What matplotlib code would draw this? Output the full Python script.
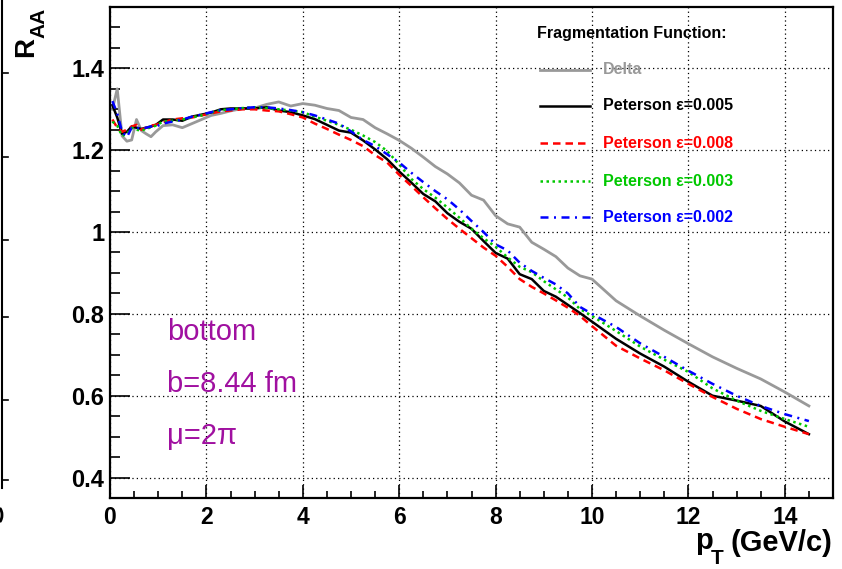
import matplotlib
matplotlib.use("Agg")
import matplotlib.pyplot as plt
from matplotlib.lines import Line2D
from matplotlib.patches import Arc
from matplotlib.ticker import MultipleLocator

plt.rcParams['font.family'] = ['Liberation Sans', 'DejaVu Sans']

pt = [0.05, 0.15, 0.25, 0.35, 0.45, 0.55, 0.65, 0.75, 0.85, 0.95, 1.1, 1.3, 1.5, 1.7, 1.9,
      2.1, 2.3, 2.5, 2.75, 3.0, 3.25, 3.5, 3.75, 4.0, 4.25, 4.5, 4.75, 5.0, 5.25, 5.5, 5.75,
      6.0, 6.25, 6.5, 6.75, 7.0, 7.25, 7.5, 7.75, 8.0, 8.25, 8.5, 8.75, 9.0, 9.25, 9.5, 9.75,
      10.0, 10.5, 11.0, 11.5, 12.0, 12.5, 13.0, 13.5, 14.0, 14.5]

raa_delta = [1.30, 1.35, 1.235, 1.222, 1.225, 1.275, 1.248, 1.24, 1.233, 1.245, 1.26, 1.262, 1.255, 1.265, 1.275,
             1.285, 1.29, 1.296, 1.302, 1.303, 1.312, 1.318, 1.308, 1.314, 1.31, 1.302, 1.297, 1.28, 1.275, 1.255, 1.24,
             1.224, 1.205, 1.183, 1.16, 1.142, 1.12, 1.09, 1.078, 1.04, 1.02, 1.012, 0.975, 0.958, 0.94, 0.912, 0.893,
             0.885, 0.832, 0.795, 0.76, 0.727, 0.695, 0.667, 0.641, 0.609, 0.575]

raa_p005 = [1.31, 1.28, 1.24, 1.245, 1.258, 1.255, 1.252, 1.255, 1.258, 1.262, 1.275, 1.275, 1.272, 1.282, 1.287,
            1.292, 1.300, 1.302, 1.302, 1.302, 1.305, 1.297, 1.293, 1.285, 1.276, 1.262, 1.248, 1.243, 1.224, 1.202, 1.178,
            1.148, 1.121, 1.093, 1.075, 1.046, 1.025, 1.008, 0.978, 0.949, 0.935, 0.897, 0.885, 0.856, 0.842, 0.822, 0.802,
            0.781, 0.739, 0.703, 0.671, 0.634, 0.600, 0.588, 0.575, 0.537, 0.506]

raa_p008 = [1.275, 1.255, 1.245, 1.25, 1.258, 1.262, 1.25, 1.255, 1.26, 1.262, 1.268, 1.275, 1.278, 1.28, 1.285,
            1.29, 1.295, 1.297, 1.3, 1.3, 1.297, 1.295, 1.288, 1.28, 1.265, 1.252, 1.238, 1.225, 1.21, 1.188, 1.17,
            1.14, 1.113, 1.085, 1.058, 1.032, 1.008, 0.985, 0.962, 0.942, 0.915, 0.885, 0.866, 0.85, 0.833, 0.815, 0.795,
            0.77, 0.722, 0.691, 0.662, 0.629, 0.597, 0.568, 0.543, 0.524, 0.506]

raa_p003 = [1.27, 1.26, 1.235, 1.24, 1.255, 1.25, 1.248, 1.252, 1.256, 1.26, 1.27, 1.272, 1.275, 1.28, 1.285,
            1.292, 1.298, 1.3, 1.303, 1.305, 1.303, 1.3, 1.297, 1.293, 1.282, 1.272, 1.262, 1.25, 1.236, 1.22, 1.198,
            1.165, 1.13, 1.105, 1.084, 1.06, 1.035, 1.008, 0.985, 0.964, 0.938, 0.915, 0.902, 0.88, 0.86, 0.84, 0.812,
            0.795, 0.758, 0.72, 0.688, 0.658, 0.618, 0.588, 0.563, 0.543, 0.524]

raa_p002 = [1.32, 1.29, 1.245, 1.232, 1.255, 1.255, 1.252, 1.255, 1.258, 1.258, 1.265, 1.27, 1.275, 1.282, 1.287,
            1.293, 1.298, 1.3, 1.303, 1.305, 1.305, 1.302, 1.298, 1.293, 1.285, 1.275, 1.265, 1.246, 1.225, 1.21, 1.19,
            1.17, 1.145, 1.122, 1.1, 1.08, 1.055, 1.027, 1.0, 0.97, 0.955, 0.925, 0.905, 0.888, 0.872, 0.85, 0.817,
            0.8, 0.768, 0.728, 0.695, 0.661, 0.629, 0.600, 0.575, 0.555, 0.538]

labels = ["Delta", "Peterson \u03b5=0.005", "Peterson \u03b5=0.008", "Peterson \u03b5=0.003", "Peterson \u03b5=0.002"]
colors = ["#999999", "#000000", "#ff0000", "#00c800", "#0000ff"]
styles = ["-", "-", (0, (3, 2)), (0, (1, 1.4)), (0, (3.2, 2.2, 0.8, 2.2))]
widths = [2.0, 1.8, 1.8, 1.8, 1.8]
series = [raa_delta, raa_p005, raa_p008, raa_p003, raa_p002]

fig = plt.figure(figsize=(8.42, 5.69), dpi=100)
ax = fig.add_axes([110/842, 71/569, 723/842, 491/569])

for y, c, ls, lw in zip(series, colors, styles, widths):
    ax.plot(pt, y, color=c, linestyle=ls, linewidth=lw)

ax.set_xlim(0, 15)
ax.set_ylim(0.35, 1.55)
ax.xaxis.set_minor_locator(MultipleLocator(0.5))
ax.yaxis.set_minor_locator(MultipleLocator(0.05))
ax.set_xticks([0, 2, 4, 6, 8, 10, 12, 14])
ax.set_xticklabels(["0", "2", "4", "6", "8", "10", "12", "14"])
ax.set_yticks([0.4, 0.6, 0.8, 1.0, 1.2, 1.4])
ax.set_yticklabels(["0.4", "0.6", "0.8", "1", "1.2", "1.4"])
ax.grid(True, which='major', color='black', linestyle=(0, (1, 2.5)), linewidth=0.9)
ax.tick_params(axis='both', which='both', direction='in', top=False, right=False, width=1.2)
ax.tick_params(axis='x', which='major', length=9.5, pad=6, labelsize=16.5)
ax.tick_params(axis='x', which='minor', length=5)
ax.tick_params(axis='y', which='major', length=14.5, pad=4, labelsize=17)
ax.tick_params(axis='y', which='minor', length=7.2)
for lab in ax.get_xticklabels() + ax.get_yticklabels():
    lab.set_fontweight('bold')
for s in ax.spines.values():
    s.set_linewidth(1.6)

# annotations
purple = "#a010a0"
ax.text(1.18, 0.756, "bottom", color=purple, fontsize=21, ha='left', va='center')
ax.text(1.18, 0.629, "b=8.44 fm", color=purple, fontsize=21, ha='left', va='center')
ax.text(1.18, 0.502, "\u03bc=2\u03c0", color=purple, fontsize=21, ha='left', va='center')

# legend
ax.text(0.5906, 0.947, "Fragmentation Function:", transform=ax.transAxes, fontsize=11.5,
        fontweight='bold', ha='left', va='center')
rows = [0.8717, 0.7984, 0.723, 0.6456, 0.5723]
for yy, lab, c, ls, lw in zip(rows, labels, colors, styles, widths):
    ax.add_line(Line2D([0.5947, 0.6639], [yy, yy], transform=ax.transAxes, color=c,
                       linestyle=ls, linewidth=lw))
    ax.text(0.6819, yy, lab, transform=ax.transAxes, color=c, fontsize=11.5,
            fontweight='bold', ha='left', va='center')

# axis titles (ROOT-style: large subscripts, strongly offset)
fig.text(26/842, 1 - 47/569, "R", rotation=90, fontsize=20, fontweight='bold', ha='center', va='center')
fig.text(39/842, 1 - 23/569, "AA", rotation=90, fontsize=15, fontweight='bold', ha='center', va='center')
fig.text(832/842, 1 - 543/569, "(GeV/c)", fontsize=21, fontweight='bold', ha='right', va='center')
fig.text(704/842, 1 - 541/569, "p", fontsize=21, fontweight='bold', ha='center', va='center')
fig.text(717/842, 1 - 558/569, "T", fontsize=15, fontweight='bold', ha='center', va='center')

# remnants of the neighbouring panel at the left edge
fig.add_artist(Line2D([2/842, 2/842], [1 - 0/569, 1 - 488/569], transform=fig.transFigure,
                      color='black', linewidth=1.5))
for yp in [73, 157, 240, 317, 400, 480]:
    fig.add_artist(Line2D([2/842, 8/842], [1 - yp/569, 1 - yp/569], transform=fig.transFigure,
                          color='black', linewidth=1.2))
fig.add_artist(Arc((-4/842, 1 - 515/569), 12/842, 18/569, theta1=-70, theta2=70,
                   transform=fig.transFigure, color='black', linewidth=2))

fig.savefig("out.png", dpi=100)
